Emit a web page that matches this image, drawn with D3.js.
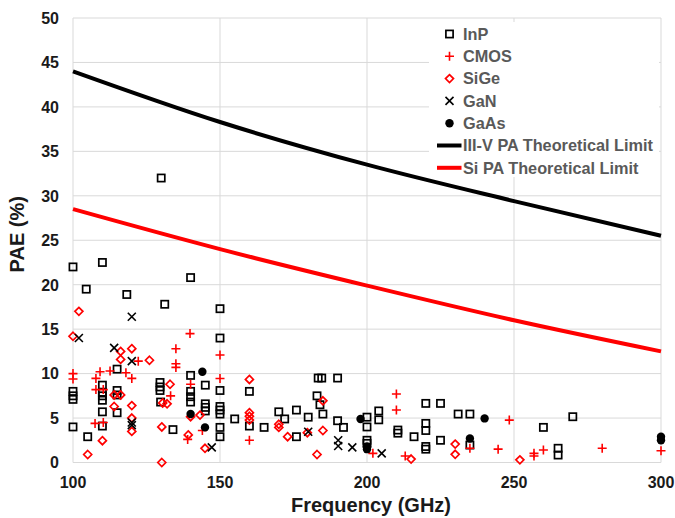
<!DOCTYPE html>
<html>
<head>
<meta charset="utf-8">
<script src="https://cdn.jsdelivr.net/npm/d3@7"></script>
<style>
  body { margin: 0; background: #fff; }
  text { font-family: Arial, "Liberation Sans", sans-serif; font-weight: bold; }
</style>
</head>
<body>
<div id="chart-area"></div>
<script>
// values, [frequency GHz, PAE %]
const inP = [
    [100, 22], [104.5, 19.5], [100, 8.0], [100, 7.5], [100, 7.1], [100, 4.0], [105, 2.9],
    [110, 22.5], [110, 8.7], [110, 7.9], [110, 7.5], [110, 7.0], [110, 5.7], [110, 4.1],
    [115, 10.5], [115, 8.1], [115, 7.6], [115, 5.6],
    [118.3, 18.9], [130, 32], [131.2, 17.8], [129.6, 9.0], [129.6, 8.5], [129.6, 8.1], [129.8, 6.8], [134, 3.7],
    [140, 20.8], [140, 9.8], [140, 8.0], [140, 7.4], [140, 6.8],
    [145, 8.7], [145, 6.6], [145, 6.2], [145, 5.8],
    [150, 17.3], [150, 14], [150, 8.1], [150, 6.3], [150, 5.9], [150, 5.45], [150, 3.95], [150, 2.9],
    [155, 4.9], [160, 8.0], [160, 4.1], [165, 3.95], [170, 5.7], [172, 4.9], [176, 5.9], [176, 2.9],
    [180, 5.1], [183.4, 9.5], [184.6, 9.5], [190, 9.5], [183, 7.5], [184, 6.5], [185, 5.45], [190, 4.7], [192, 3.95],
    [200, 5.1], [200, 4.0], [200, 2.5], [200, 2.15], [204, 5.8], [204, 4.8],
    [210.5, 3.65], [210.5, 3.3], [216, 2.9], [220, 6.65], [225, 6.65], [220, 4.4], [220, 3.6], [220, 1.8], [220, 1.5], [225, 2.5],
    [231, 5.45], [235, 5.45], [235, 1.96], [260, 3.95], [270, 5.15], [265, 1.6], [265, 0.84]
];
const cmos = [
    [100, 10], [100, 9.4], [107.8, 9.46], [107.8, 8.2], [110.3, 8.2], [109.2, 10.2], [112.6, 10.3], [118, 10.1],
    [107.5, 4.4], [110.3, 4.5], [120, 9.46], [122.2, 11.4], [133.2, 7.5], [135, 12.8], [135, 11.1], [135, 10.7],
    [139, 2.6], [139.8, 14.5], [140, 8.8], [144, 3.6], [150, 12.1], [150, 9.45], [160, 2.5], [202, 1.03],
    [210, 7.7], [210, 5.9], [213, 0.73], [235, 1.6], [244.6, 1.5], [248.4, 4.77],
    [256.8, 1.03], [256.8, 0.73], [260, 1.4], [280, 1.6], [300, 1.33]
];
const siGe = [
    [100, 14.2], [102, 17], [105, 0.9], [110, 2.45],
    [114, 7.6], [114, 6.3], [116.2, 12.5], [116.2, 11.6], [116.2, 7.6], [120, 12.8], [120, 6.4], [120, 5.0], [120, 3.5], [126, 11.5],
    [130.2, 4.0], [130.2, 0], [130.5, 6.7], [132, 6.6], [133, 8.8], [139.2, 3.1], [140, 5.15], [143.2, 5.33], [144.9, 1.6],
    [160, 9.34], [160, 5.6], [160, 5.2], [160, 4.77], [170, 4.3], [170, 3.95], [173, 2.9], [179.7, 3.35], [183, 0.9],
    [185, 6.94], [185, 3.6], [215, 0.39], [230, 2.07], [230, 0.92], [252, 0.3]
];
const gaN = [
    [102, 14], [114, 12.9], [120, 16.4], [120, 11.4], [120, 4.5], [120, 4.2], [147.2, 1.7],
    [180, 3.46], [190.2, 2.5], [190.2, 1.85], [195, 1.7], [205, 1.03]
];
const gaAs = [
    [144, 10.2], [140, 5.45], [144.9, 3.95], [197.8, 4.9], [200, 1.8], [200, 1.5],
    [235, 2.7], [240, 4.96], [300, 2.9], [300, 2.5]
];

// theoretical limit curves
const limitFreq = [100, 150, 200, 250, 300];
const limitIIIV = [44, 38.3, 33.5, 29.4, 25.5];
const limitSi = [28.5, 24.0, 19.9, 16.0, 12.5];

const xTicks = [100, 150, 200, 250, 300];
const yTicks = [0, 5, 10, 15, 20, 25, 30, 35, 40, 45, 50];

const width = 675, height = 518;
const margin = {top: 18, right: 14, bottom: 55.5, left: 73};

const svg = d3.select("#chart-area")
    .append("svg")
    .attr("width", width)
    .attr("height", height);

const x = d3.scaleLinear().domain([100, 300]).range([margin.left, width - margin.right]);
const y = d3.scaleLinear().domain([0, 50]).range([height - margin.bottom, margin.top]);

// grid
const grid = svg.append("g").attr("stroke", "#d9d9d9").attr("stroke-width", 1);
grid.selectAll("line.h")
    .data(yTicks)
    .join("line")
    .attr("x1", x(100)).attr("x2", x(300))
    .attr("y1", d => y(d)).attr("y2", d => y(d));
grid.selectAll("line.v")
    .data(xTicks)
    .join("line")
    .attr("class", "v")
    .attr("y1", y(0)).attr("y2", y(50))
    .attr("x1", d => x(d)).attr("x2", d => x(d));

// tick labels
svg.append("g")
    .selectAll("text")
    .data(yTicks)
    .join("text")
    .attr("x", margin.left - 14)
    .attr("y", d => y(d) + 5.8)
    .attr("text-anchor", "end")
    .attr("font-size", 16)
    .attr("fill", "#1a1a1a")
    .text(d => d);

svg.append("g")
    .selectAll("text")
    .data(xTicks)
    .join("text")
    .attr("x", d => x(d))
    .attr("y", y(0) + 25)
    .attr("text-anchor", "middle")
    .attr("font-size", 16)
    .attr("fill", "#1a1a1a")
    .text(d => d);

svg.append("text")
    .attr("x", (x(100) + x(300)) / 2 + 4)
    .attr("y", 512)
    .attr("text-anchor", "middle")
    .attr("font-size", 20)
    .attr("fill", "#1a1a1a")
    .text("Frequency (GHz)");

svg.append("text")
    .attr("transform", `translate(24,${(y(0) + y(50)) / 2 - 6}) rotate(-90)`)
    .attr("text-anchor", "middle")
    .attr("font-size", 20)
    .attr("fill", "#1a1a1a")
    .text("PAE (%)");

// limit lines
const line = d3.line().curve(d3.curveMonotoneX).x(d => x(d[0])).y(d => y(d[1]));
const lines = [
    {name: "III-V PA Theoretical Limit", color: "#000", values: d3.zip(limitFreq, limitIIIV)},
    {name: "Si PA Theoretical Limit", color: "#ff0000", values: d3.zip(limitFreq, limitSi)}
];
svg.append("g")
    .selectAll("path")
    .data(lines)
    .join("path")
    .attr("fill", "none")
    .attr("stroke", d => d.color)
    .attr("stroke-width", 4)
    .attr("d", d => line(d.values));

// marker shapes
const shapes = {
    square: g => g.append("rect").attr("x", -3.6).attr("y", -3.6).attr("width", 7.2).attr("height", 7.2)
        .attr("fill", "none").attr("stroke", "#000").attr("stroke-width", 1.7),
    plus: g => g.append("path").attr("d", "M-4.5,0H4.5M0,-4.5V4.5")
        .attr("stroke", "#ff0000").attr("stroke-width", 1.6),
    diamond: g => g.append("path").attr("d", "M0,-4L4,0L0,4L-4,0Z")
        .attr("fill", "none").attr("stroke", "#ff0000").attr("stroke-width", 1.7),
    cross: g => g.append("path").attr("d", "M-4,-4L4,4M-4,4L4,-4")
        .attr("stroke", "#000").attr("stroke-width", 1.6),
    dot: g => g.append("circle").attr("r", 4.2).attr("fill", "#000")
};

const series = [
    {name: "InP", shape: "square", values: inP},
    {name: "CMOS", shape: "plus", values: cmos},
    {name: "SiGe", shape: "diamond", values: siGe},
    {name: "GaN", shape: "cross", values: gaN},
    {name: "GaAs", shape: "dot", values: gaAs}
];

series.forEach(s => {
    svg.append("g")
        .selectAll("g")
        .data(s.values)
        .join("g")
        .attr("transform", d => `translate(${x(d[0])},${y(d[1])})`)
        .each(function() { shapes[s.shape](d3.select(this)); });
});

// legend
const legend = svg.append("g");
legend.append("rect")
    .attr("x", 429).attr("y", 22)
    .attr("width", 230).attr("height", 155)
    .attr("fill", "#fff");

const items = series.map(s => ({name: s.name, shape: s.shape}))
    .concat(lines.map(l => ({name: l.name, color: l.color})));

const item = legend.selectAll("g.item")
    .data(items)
    .join("g")
    .attr("class", "item")
    .attr("transform", (d, i) => `translate(449.5,${34 + i * 22.3})`);

item.each(function(d) {
    const g = d3.select(this);
    if (d.shape) shapes[d.shape](g);
    else g.append("line").attr("x1", -12.5).attr("x2", 12).attr("stroke", d.color).attr("stroke-width", 4);
});

item.append("text")
    .attr("x", 13.5)
    .attr("y", 5.8)
    .attr("font-size", 16.3)
    .attr("fill", "#595959")
    .text(d => d.name);
</script>
</body>
</html>
